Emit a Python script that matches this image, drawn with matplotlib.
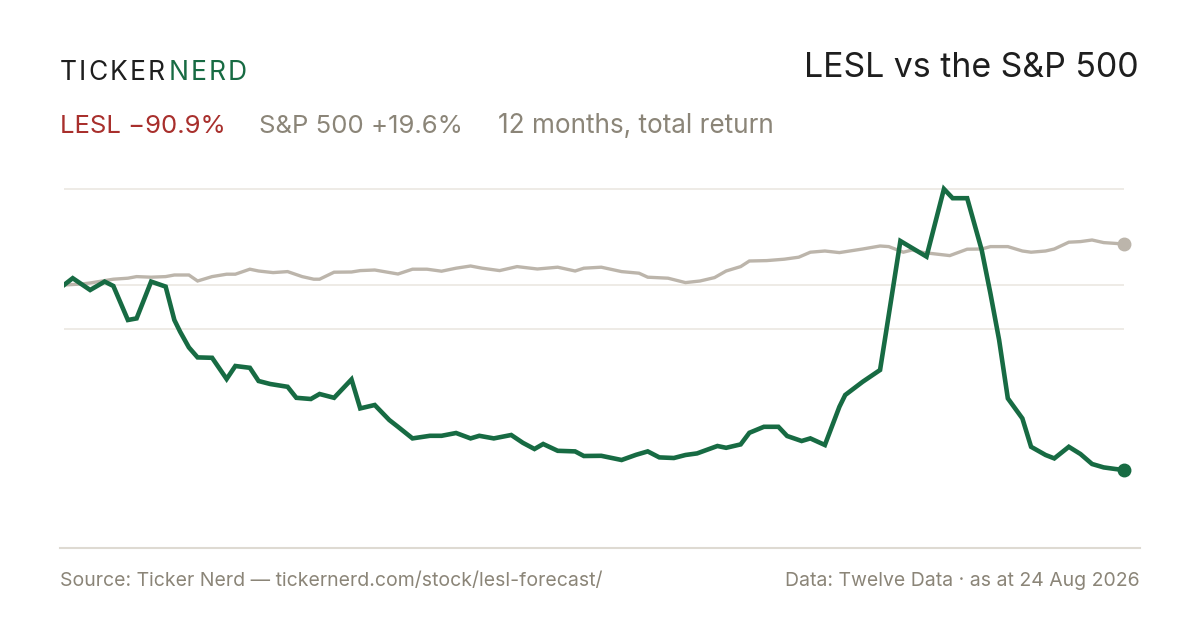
import matplotlib
matplotlib.use("Agg")
import matplotlib.pyplot as plt
from matplotlib.lines import Line2D

# LESL total return (%), by calendar day over the last 12 months
lesl_days = [0, 3, 9, 14, 17, 22, 25, 30, 35, 38, 40, 43, 46, 51, 56, 59, 64, 67, 71, 77,
             80, 85, 88, 93, 99, 102, 107, 112, 115, 120, 126, 130, 135, 140, 143, 148, 154,
             158, 162, 165, 170, 176, 179, 185, 192, 197, 201, 205, 210, 214, 218, 225, 228,
             233, 236, 241, 246, 249, 254, 257, 262, 267, 269, 275, 281, 283, 288, 297, 303,
             306, 311, 316, 319, 322, 325, 330, 333, 338, 341, 346, 350, 354, 358, 362, 365]
lesl_ret = [0.0, 3.4, -2.5, 1.7, -0.5, -17.5, -16.7, 1.7, -0.8, -17.5, -23.4, -31.2, -36.2,
            -36.4, -47.0, -40.5, -41.4, -48.0, -49.5, -50.9, -56.4, -57.0, -54.5, -56.4, -47.2,
            -61.7, -60.0, -67.5, -70.9, -76.7, -75.4, -75.4, -74.0, -76.7, -75.4, -76.7, -75.0,
            -78.9, -82.0, -79.5, -82.9, -83.2, -85.5, -85.4, -87.5, -84.9, -83.2, -86.2, -86.5,
            -85.0, -84.2, -80.5, -81.4, -79.7, -73.9, -70.9, -70.9, -75.5, -78.0, -76.7, -80.0,
            -60.9, -55.0, -48.4, -42.5, -24.2, 22.0, 14.2, 48.0, 43.4, 43.4, 17.5, -4.2, -27.5,
            -56.7, -66.7, -80.9, -85.0, -86.7, -80.9, -84.5, -89.5, -91.2, -92.0, -92.5]

# S&P 500 total return (%)
spx_days = [0, 6, 9, 14, 17, 22, 25, 30, 35, 38, 43, 46, 51, 56, 59, 64, 67, 72, 77, 82, 86,
            88, 93, 99, 102, 107, 115, 120, 125, 130, 135, 140, 144, 150, 156, 163, 170, 176,
            179, 185, 192, 198, 201, 208, 214, 219, 224, 228, 233, 236, 242, 248, 253, 257,
            262, 267, 275, 281, 284, 289, 292, 296, 305, 311, 316, 319, 325, 330, 333, 338,
            341, 346, 350, 354, 358, 361, 365]
spx_ret = [0.0, 0.5, 1.0, 2.2, 2.9, 3.4, 4.2, 3.9, 4.2, 5.0, 5.0, 2.0, 4.2, 5.4, 5.4, 7.9, 7.0,
           6.2, 6.7, 4.2, 2.9, 2.9, 6.4, 6.5, 7.2, 7.5, 5.5, 7.9, 7.9, 6.9, 8.4, 9.5, 8.4, 7.2,
           9.2, 8.0, 8.9, 7.0, 8.4, 8.9, 6.7, 5.9, 3.9, 3.4, 1.2, 2.0, 3.7, 7.0, 9.2, 12.0, 12.2,
           12.9, 13.9, 16.4, 17.0, 16.2, 18.0, 19.5, 19.2, 16.4, 17.5, 16.2, 14.7, 17.9, 18.0,
           19.2, 19.2, 17.0, 16.4, 17.0, 18.0, 21.4, 21.7, 22.5, 21.2, 20.9, 20.5]

grid_levels = [48, 0, -22]

GREEN = "#176b43"
GREY_LINE = "#bcb5ab"
DARK = "#1e1e1e"
RED = "#a82f2c"
MUTED = "#8b8578"
FONT = "Inter"

W, H = 1200, 630
fig = plt.figure(figsize=(W / 100, H / 100), dpi=100)
fig.patch.set_facecolor("white")


def fx(x):
    return x / W


def fy(y):
    return 1 - y / H


ax = fig.add_axes([fx(64), fy(510), (1124 - 64) / W, 340 / H])
ax.set_xlim(0, 365)
ax.set_ylim(-112.5, 57.5)
ax.axis("off")

for g in grid_levels:
    ax.axhline(g, color="#ebe8e2", lw=1.2, zorder=1)

ax.plot(spx_days, spx_ret, color=GREY_LINE, lw=2.4, solid_joinstyle="miter", zorder=2)
ax.plot(lesl_days, lesl_ret, color=GREEN, lw=3.3, solid_joinstyle="miter", zorder=3)
ax.plot(spx_days[-1], spx_ret[-1], "o", color=GREY_LINE, ms=9, zorder=4, clip_on=False)
ax.plot(lesl_days[-1], lesl_ret[-1], "o", color=GREEN, ms=9, zorder=4, clip_on=False)

# bottom rule
fig.add_artist(Line2D([fx(60), fx(1140)], [fy(548), fy(548)], color="#dedad2", lw=1.5))

# brand, letter-spaced
renderer = fig.canvas.get_renderer()
x = 60.0
for word, col in [("TICKER", DARK), ("NERD", GREEN)]:
    for ch in word:
        t = fig.text(fx(x), fy(80), ch, fontsize=19, color=col, family=FONT,
                     va="baseline", ha="left")
        x += t.get_window_extent(renderer).width + 2.1
    x += 1.5

fig.text(fx(1139), fy(77), "LESL vs the S&P 500", fontsize=24.4, color=DARK,
         family=FONT, va="baseline", ha="right")

fig.text(fx(60), fy(133), "LESL \u221290.9%", fontsize=18.5, color=RED, family=FONT,
         va="baseline", ha="left")
fig.text(fx(259), fy(133), "S&P 500 +19.6%", fontsize=18.5, color=MUTED, family=FONT,
         va="baseline", ha="left")
fig.text(fx(498), fy(133), "12 months, total return", fontsize=18.8, color=MUTED,
         family=FONT, va="baseline", ha="left")

fig.text(fx(60), fy(586), "Source: Ticker Nerd \u2014 tickernerd.com/stock/lesl-forecast/",
         fontsize=14, color=MUTED, family=FONT, va="baseline", ha="left")
fig.text(fx(1140), fy(586), "Data: Twelve Data \u00b7 as at 24 Aug 2026",
         fontsize=14, color=MUTED, family=FONT, va="baseline", ha="right")

fig.savefig("out.png", dpi=100, facecolor="white")
